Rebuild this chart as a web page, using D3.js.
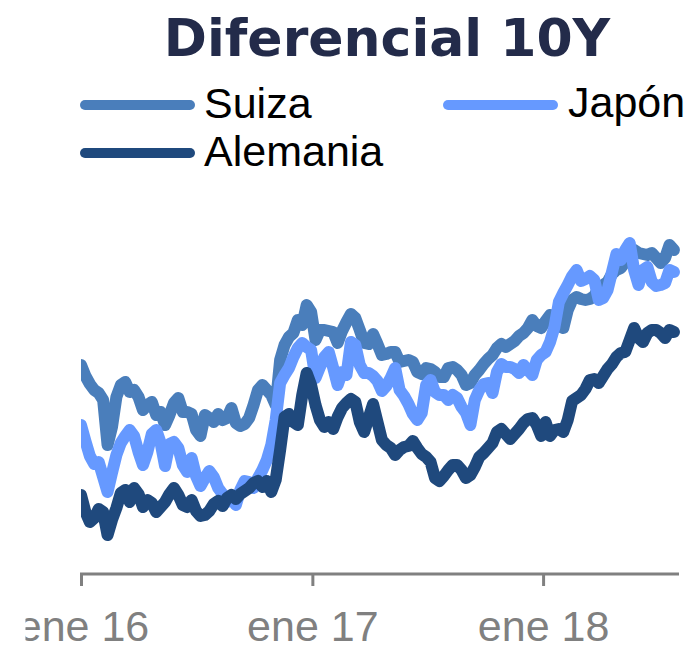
<!DOCTYPE html>
<html lang="es">
<head>
<meta charset="utf-8">
<title>Diferencial 10Y</title>
<script src="https://cdn.jsdelivr.net/npm/d3@7"></script>
<style>
  html, body { margin: 0; padding: 0; background: #ffffff; }
  svg { display: block; }
</style>
</head>
<body>
<svg id="chart" width="695" height="645"></svg>
<script>
// Diferencial de rentabilidad a 10 años (pb), observaciones semanales (viernes)
const fechas = d3.timeFriday.range(new Date(2016, 0, 1), new Date(2018, 6, 28));

const suiza = [
  237.5, 232, 228, 225, 223.5, 220, 197.5, 206.5, 221.5, 227.5,
  229, 224, 225, 221.5, 215, 217.5, 219, 212.5, 214, 207.5,
  212.5, 218.5, 221, 214, 214, 213, 205, 202, 212.5, 211,
  209, 213, 210, 211, 216, 208.5, 207, 208, 211, 217.5,
  225, 227.5, 225, 222.5, 217.5, 240, 247.5, 251.5, 253.5, 260,
  257.5, 267.5, 264, 250, 255, 255, 254.5, 254, 248.5, 254.5,
  259, 263, 261, 255, 248.5, 248, 253, 248, 242.5, 243,
  244, 244, 239, 239.5, 240, 239, 234, 233, 236, 235.5,
  234, 231.5, 231.5, 236, 236.5, 235, 232.5, 227.5, 228.5, 232.5,
  235, 238, 240.5, 242.5, 246, 248, 246.5, 248, 249.5, 252,
  253.5, 256, 260, 257, 256, 259.5, 262.5, 261, 257, 256,
  265, 270, 271.5, 270.5, 270, 270.5, 272, 276, 277.5, 279,
  283, 285, 286, 289, 292.5, 295, 293.5, 293, 292.5, 293.5,
  291, 288.5, 291, 297.5, 295
];

const japon = [
  207.5, 199.5, 192, 188, 189, 181.5, 174, 183.5, 192.5, 198.5,
  202, 205, 202, 194, 187.5, 194, 203, 205, 198.5, 187,
  198, 199, 196, 187.5, 184, 191, 182, 177, 181, 184.5,
  181.5, 176, 173, 169, 170.5, 167.5, 175, 179.5, 179, 176,
  181, 185, 190, 197.5, 210, 228.5, 232.5, 236, 241.5, 246,
  248.5, 246.5, 245, 231, 236.5, 241.5, 244, 236, 227.5, 234,
  232.5, 249, 247.5, 237.5, 233.5, 233.5, 232, 229.5, 224.5, 227,
  231, 236, 225, 222, 218, 213, 210, 213.5, 227.5, 230,
  224, 222.5, 222.5, 220, 222.5, 221, 216.5, 213.5, 207.5, 220,
  225, 228, 228.5, 223.5, 234, 238, 236.5, 236.5, 235.5, 233.5,
  237.5, 235, 232.5, 240, 242.5, 244, 249, 256.5, 269, 273.5,
  277.5, 282, 285, 279.5, 280.5, 282, 280, 270, 271, 275,
  284, 293, 290, 295, 298.5, 285, 277.5, 285, 286.5, 279,
  277, 277.5, 278.5, 285, 284
];

const alemania = [
  172.5, 164, 159, 161, 165.5, 164, 152.5, 160, 166, 173.5,
  175, 169, 176, 173, 166.5, 170, 168.5, 164, 166.5, 169,
  173, 176, 172.5, 167.5, 166.5, 170, 164.5, 162, 162.5, 164.5,
  168, 169.5, 167, 171, 172.5, 170.5, 173, 174.5, 176, 178.5,
  179.5, 176.5, 179.5, 174, 180, 195, 211.5, 213, 209, 207.5,
  222.5, 233.5, 227.5, 217.5, 210, 206.5, 209, 205.5, 211.5, 216,
  218.5, 220.5, 219, 209, 204, 211, 218, 209, 200, 197.5,
  196, 192.5, 195, 196.5, 197, 199.5, 196, 193, 191.5, 189,
  181, 179.5, 182, 185, 187.5, 187.5, 185, 181, 182.5, 186.5,
  191.5, 193.5, 196, 198.5, 204, 205.5, 203, 200.5, 203, 205.5,
  208.5, 210.5, 211, 207.5, 202, 209, 202, 205, 205.5, 204,
  210, 219.5, 221, 222.5, 225.5, 230, 230.5, 228.5, 232, 235.5,
  238, 241.5, 243.5, 244, 250, 256, 251, 249, 253.5, 255,
  255, 253.5, 251, 255, 254
];

const nombres = ["Suiza", "Japón", "Alemania"];
const colores = ["#4a7ebb", "#6699ff", "#1f497d"];
const etiquetasX = ["ene 16", "ene 17", "ene 18"];
const anios = [new Date(2016, 0, 1), new Date(2017, 0, 1), new Date(2018, 0, 1)];

const series = [suiza, japon, alemania].map((valores, k) => ({
  nombre: nombres[k],
  color: colores[k],
  puntos: fechas.slice(0, valores.length).map((f, i) => ({ fecha: f, valor: valores[i] }))
}));

const svg = d3.select("#chart");

const x = d3.scaleTime()
  .domain([new Date(2016, 0, 1), new Date(2018, 7, 4)])
  .range([81, 679]);

const y = d3.scaleLinear()
  .domain([130, 310])
  .range([580, 220]);

const ejeY = 574;

// Título
svg.append("text")
  .attr("x", 387)
  .attr("y", 56)
  .attr("text-anchor", "middle")
  .style("font-family", "'DejaVu Sans', Verdana, sans-serif")
  .style("font-weight", "bold")
  .style("font-size", "52px")
  .style("fill", "#232b4a")
  .text("Diferencial 10Y");

// Leyenda
const leyenda = [
  { lx: 85, ly: 105, tx: 204, ty: 118 },
  { lx: 448, ly: 105, tx: 568, ty: 117 },
  { lx: 85, ly: 153, tx: 204, ty: 166 }
];
const gLeg = svg.append("g");
series.forEach((s, k) => {
  const p = leyenda[k];
  gLeg.append("line")
    .attr("x1", p.lx).attr("x2", p.lx + 105)
    .attr("y1", p.ly).attr("y2", p.ly)
    .attr("stroke", s.color)
    .attr("stroke-width", 10)
    .attr("stroke-linecap", "round");
  gLeg.append("text")
    .attr("x", p.tx).attr("y", p.ty)
    .style("font-family", "'Liberation Sans', Arial, sans-serif")
    .style("font-size", "43px")
    .style("fill", "#000000")
    .text(s.nombre);
});

// Área de trazado
const defs = svg.append("defs");
defs.append("clipPath").attr("id", "recorte-lineas")
  .append("rect").attr("x", 81).attr("y", 0).attr("width", 614).attr("height", 645);
defs.append("clipPath").attr("id", "recorte-primera")
  .append("rect").attr("x", -56).attr("y", 0).attr("width", 200).attr("height", 80);

const linea = d3.line()
  .x(d => x(d.fecha))
  .y(d => y(d.valor))
  .curve(d3.curveLinear);

svg.append("g")
  .attr("clip-path", "url(#recorte-lineas)")
  .selectAll("path")
  .data(series)
  .join("path")
  .attr("d", d => linea(d.puntos))
  .attr("fill", "none")
  .attr("stroke", d => d.color)
  .attr("stroke-width", 12)
  .attr("stroke-linejoin", "round")
  .attr("stroke-linecap", "round");

// Eje X
const ejeX = d3.axisBottom(x)
  .tickValues(anios)
  .tickFormat((d, i) => etiquetasX[i])
  .tickSize(12)
  .tickSizeOuter(0);

const gEje = svg.append("g")
  .attr("transform", `translate(0,${ejeY})`)
  .call(ejeX);

gEje.select(".domain")
  .attr("d", `M${x.range()[0] - 1},0H${x.range()[1]}`)
  .attr("stroke", "#808080")
  .attr("stroke-width", 3);
gEje.selectAll(".tick line")
  .attr("stroke", "#808080")
  .attr("stroke-width", 3);
gEje.selectAll(".tick text")
  .attr("x", (d, i) => (i === 0 ? 2 : 0))
  .attr("y", 67)
  .attr("dy", 0)
  .style("font-family", "'Liberation Sans', Arial, sans-serif")
  .style("font-size", "43px")
  .style("fill", "#808080");
// la primera etiqueta queda recortada por el borde izquierdo del gráfico
gEje.selectAll(".tick").filter((d, i) => i === 0)
  .attr("clip-path", "url(#recorte-primera)");
</script>
</body>
</html>
